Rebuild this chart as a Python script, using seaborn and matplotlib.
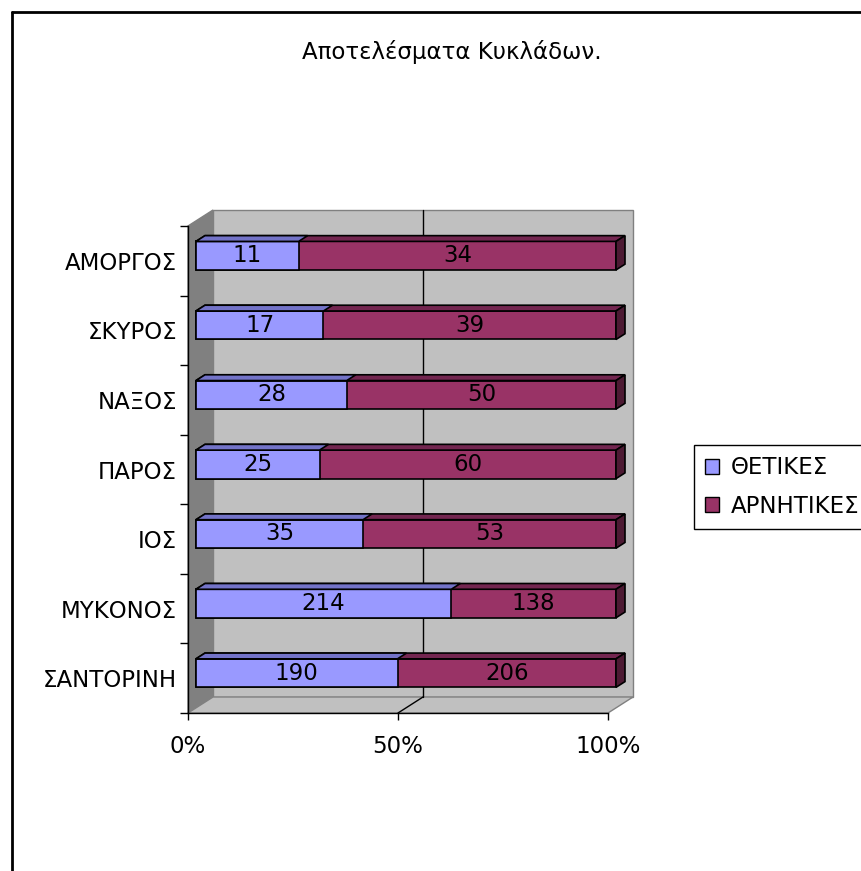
import numpy as np
import pandas as pd
import seaborn as sns
import matplotlib.pyplot as plt
from matplotlib.patches import Polygon, Patch
from matplotlib.lines import Line2D
from matplotlib.transforms import Affine2D

# data
islands = ['ΑΜΟΡΓΟΣ', 'ΣΚΥΡΟΣ', 'ΝΑΞΟΣ', 'ΠΑΡΟΣ', 'ΙΟΣ', 'ΜΥΚΟΝΟΣ', 'ΣΑΝΤΟΡΙΝΗ']
thetikes = [11, 17, 28, 25, 35, 214, 190]
arnitikes = [34, 39, 50, 60, 53, 138, 206]
series_names = ['ΘΕΤΙΚΕΣ', 'ΑΡΝΗΤΙΚΕΣ']
x_ticks = [0, 0.5, 1.0]
x_ticklabels = ['0%', '50%', '100%']
title = 'Αποτελέσματα Κυκλάδων.'

sns.set_style('white')
plt.rcParams['font.family'] = ['DejaVu Sans']
plt.rcParams['text.color'] = 'black'
FS = 16.5

df = pd.DataFrame({'island': islands, 'pos': thetikes, 'neg': arnitikes})
df['total'] = df['pos'] + df['neg']
df['pos_share'] = df['pos'] / df['total']
df['all_share'] = 1.0

W, H = 862, 871
fig = plt.figure(figsize=(W / 100, H / 100), dpi=100)
# front plane of the 3d box (pixels)
L, R, T, B = 188, 608, 226, 713
ax = fig.add_axes([L / W, 1 - B / H, (R - L) / W, (B - T) / H])

blue, blue_top = '#9999FF', '#7373C8'
red, red_top, red_side = '#993366', '#732650', '#4D1A33'

sns.barplot(data=df, x='all_share', y='island', order=islands, color=red,
            width=0.41, saturation=1, edgecolor='black', linewidth=1.2,
            errorbar=None, ax=ax)
sns.barplot(data=df, x='pos_share', y='island', order=islands, color=blue,
            width=0.41, saturation=1, edgecolor='black', linewidth=1.2,
            errorbar=None, ax=ax)
bars = list(ax.patches)
n = len(islands)

ax.set_xlim(0, 1)
ax.set_ylim(n - 0.5, -0.5)

# depth vector of the box in data units
sx = (R - L)
sy = (B - T) / n
Dx, Dy = 25 / sx, -16 / sy
f1, f2 = 0.32, 0.68

# walls
ytop, ybot = -0.5, n - 0.5
walls = [
    ([(Dx, ytop + Dy), (1 + Dx, ytop + Dy), (1 + Dx, ybot + Dy), (Dx, ybot + Dy)], '#C0C0C0'),
    ([(0, ytop), (Dx, ytop + Dy), (Dx, ybot + Dy), (0, ybot)], '#808080'),
    ([(0, ybot), (1, ybot), (1 + Dx, ybot + Dy), (Dx, ybot + Dy)], '#C0C0C0'),
]
for pts, fc in walls:
    ax.add_patch(Polygon(pts, closed=True, fc=fc, ec='#808080', lw=1,
                         zorder=0.5, clip_on=False))
# 50% gridline on back wall and floor
ax.plot([0.5 + Dx, 0.5 + Dx], [ytop + Dy, ybot + Dy], color='black', lw=1,
        zorder=0.6, clip_on=False)
ax.plot([0.5, 0.5 + Dx], [ybot, ybot + Dy], color='black', lw=1,
        zorder=0.6, clip_on=False)

# turn the flat bars into boxes
shift = Affine2D().translate(f1 * Dx, f1 * Dy)
for i, p in enumerate(bars):
    is_red = i < n
    p.set_transform(shift + ax.transData)
    p.set_clip_on(False)
    p.set_zorder(2)
    x0, x1 = p.get_x(), p.get_x() + p.get_width()
    yt, yb = p.get_y(), p.get_y() + p.get_height()
    a, b = f1, f2
    top = [(x0 + a * Dx, yt + a * Dy), (x1 + a * Dx, yt + a * Dy),
           (x1 + b * Dx, yt + b * Dy), (x0 + b * Dx, yt + b * Dy)]
    ax.add_patch(Polygon(top, closed=True, fc=red_top if is_red else blue_top,
                         ec='black', lw=1.2, zorder=2, clip_on=False))
    if is_red:
        side = [(x1 + a * Dx, yt + a * Dy), (x1 + b * Dx, yt + b * Dy),
                (x1 + b * Dx, yb + b * Dy), (x1 + a * Dx, yb + a * Dy)]
        ax.add_patch(Polygon(side, closed=True, fc=red_side, ec='black',
                             lw=1.2, zorder=2, clip_on=False))

# value labels in the middle of each front face
for i in range(n):
    sh = df['pos_share'][i]
    yc = i + f1 * Dy
    ax.text(sh / 2 + f1 * Dx, yc, str(thetikes[i]), ha='center', va='center',
            fontsize=FS, color='black', zorder=3)
    ax.text((sh + 1) / 2 + f1 * Dx, yc, str(arnitikes[i]), ha='center',
            va='center', fontsize=FS, color='black', zorder=3)

# axes styling
for s in ['top', 'right']:
    ax.spines[s].set_visible(False)
for s in ['left', 'bottom']:
    ax.spines[s].set_color('black')
    ax.spines[s].set_linewidth(1)
    ax.spines[s].set_zorder(1)
ax.set_xlabel('')
ax.set_ylabel('')
ax.set_xticks(x_ticks)
ax.set_xticklabels(x_ticklabels)
ax.set_yticks(range(n))
ax.set_yticklabels(islands)
ax.set_yticks(np.arange(-0.5, n, 1), minor=True)
ax.tick_params(axis='x', length=5, width=1, color='black', direction='out',
               pad=11, labelsize=FS, labelcolor='black', bottom=True)
ax.tick_params(axis='y', which='major', length=0, pad=8, labelsize=FS,
               labelcolor='black')
ax.tick_params(axis='y', which='minor', length=6, width=1, color='black',
               direction='out', left=True)

# legend
handles = [Patch(fc=blue, ec='black', lw=1), Patch(fc=red, ec='black', lw=1)]
leg = fig.legend(handles, series_names, loc='upper left',
                 bbox_to_anchor=(694 / W, 1 - 445 / H), frameon=True,
                 fancybox=False, edgecolor='black', framealpha=1,
                 fontsize=FS, handlelength=0.6, handleheight=0.6,
                 handletextpad=0.5, borderpad=0.5, labelspacing=0.67,
                 borderaxespad=0)
leg.get_frame().set_linewidth(1)
for t in leg.get_texts():
    t.set_color('black')

# title and outer chart border
fig.text(452 / W, 1 - 52 / H, title, ha='center', va='center', fontsize=FS,
         color='black')
fig.add_artist(Line2D([12 / W, 1], [1 - 12 / H, 1 - 12 / H], color='black', lw=2))
fig.add_artist(Line2D([12 / W, 12 / W], [0, 1 - 12 / H], color='black', lw=2))

fig.savefig('out.png', dpi=100)
